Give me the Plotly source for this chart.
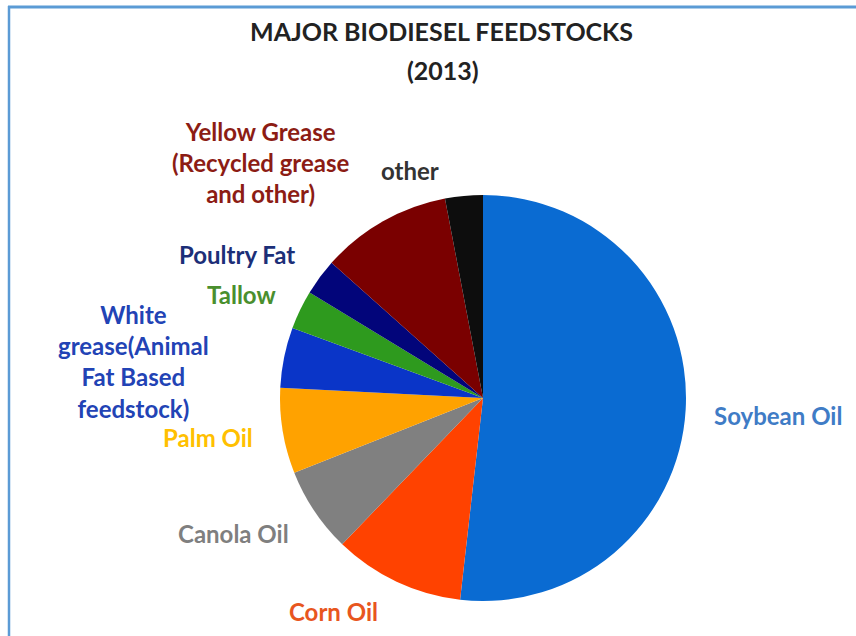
import plotly.graph_objects as go

labels = ["Soybean Oil", "Corn Oil", "Canola Oil", "Palm Oil",
          "White grease(Animal Fat Based feedstock)", "Tallow", "Poultry Fat",
          "Yellow Grease (Recycled grease and other)", "other"]
values = [51.8, 10.4, 6.8, 6.8, 4.8, 3.1, 2.9, 10.4, 3.0]
slice_colors = ["#0a6bd2", "#ff4200", "#808080", "#ffa200", "#0a35c8",
                "#2e9a1e", "#02057a", "#7a0000", "#0d0d0d"]
label_text = ["Soybean Oil", "Corn Oil", "Canola Oil", "Palm Oil",
              "White<br>grease(Animal<br>Fat Based<br>feedstock)", "Tallow", "Poultry Fat",
              "Yellow Grease<br>(Recycled grease<br>and other)", "other"]
label_colors = ["#3f7cc6", "#e8561e", "#7f7f7f", "#ffc000", "#2243b5",
                "#4a8f2e", "#1c2f78", "#8c1c14", "#333333"]
# label positions in pixels (x from left, y from top)
label_pos = [(778, 415), (333, 611), (233, 533), (208, 437), (133, 361),
             (241, 295), (237, 255), (260, 162), (410, 170)]

W, H = 856, 636
cx, cy, r = 483, 398, 203

fig = go.Figure(go.Pie(
    labels=labels, values=values, sort=False, direction="clockwise",
    rotation=0, marker=dict(colors=slice_colors, line=dict(width=0)),
    textinfo="none", hoverinfo="label+percent", showlegend=False,
    domain=dict(x=[(cx - r) / W, (cx + r) / W], y=[(H - cy - r) / H, (H - cy + r) / H]),
))

annotations = []
for t, c, (px, py) in zip(label_text, label_colors, label_pos):
    annotations.append(dict(
        text="<b>" + t + "</b>", x=px / W, y=1 - py / H, xref="paper", yref="paper",
        showarrow=False, xanchor="center", yanchor="middle", align="center",
        font=dict(family="Lato, Open Sans, sans-serif", size=24, color=c)))

annotations.append(dict(
    text="<b>MAJOR BIODIESEL FEEDSTOCKS</b>", x=441 / W, y=1 - 31 / H, xref="paper", yref="paper",
    showarrow=False, xanchor="center", yanchor="middle",
    font=dict(family="Lato, Open Sans, sans-serif", size=25, color="#222222")))
annotations.append(dict(
    text="<b>(2013)</b>", x=443 / W, y=1 - 70 / H, xref="paper", yref="paper",
    showarrow=False, xanchor="center", yanchor="middle",
    font=dict(family="Lato, Open Sans, sans-serif", size=25, color="#222222")))

shapes = [
    dict(type="line", xref="paper", yref="paper", x0=8 / W, x1=1, y0=1 - 7 / H, y1=1 - 7 / H,
         line=dict(color="#5b9bd5", width=3), layer="above"),
    dict(type="line", xref="paper", yref="paper", x0=9 / W, x1=9 / W, y0=0, y1=1 - 6 / H,
         line=dict(color="#5b9bd5", width=2.5), layer="above"),
]

fig.update_layout(
    width=W, height=H, margin=dict(l=0, r=0, t=0, b=0),
    paper_bgcolor="white", plot_bgcolor="white",
    annotations=annotations, shapes=shapes,
)

fig.write_html("out.html", config={"displayModeBar": False},
               post_script="document.body.style.margin='0';document.body.style.overflow='hidden';")
